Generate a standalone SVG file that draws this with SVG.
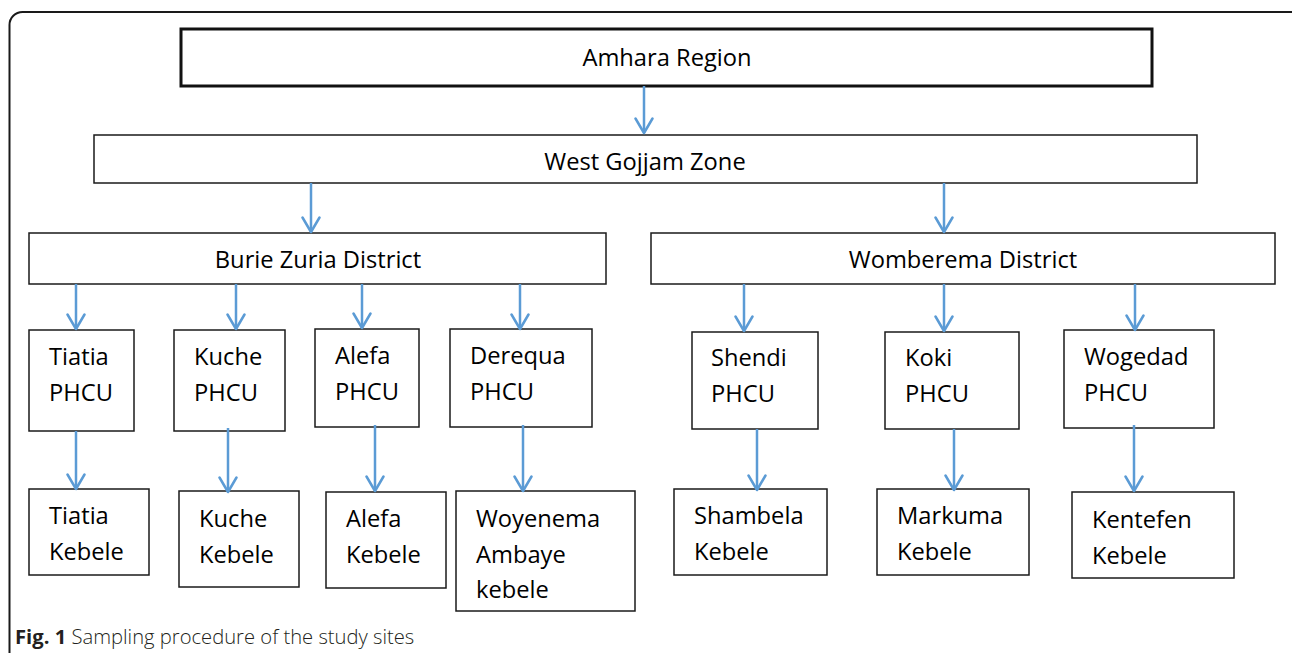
<svg xmlns="http://www.w3.org/2000/svg" width="1292" height="653" viewBox="0 0 1292 653">
<defs>
<style>
.frame{fill:none;stroke:#1a1a1a;stroke-width:2}
.box{fill:#fff;stroke:#1a1a1a;stroke-width:1.5}
.boxb{fill:#fff;stroke:#111;stroke-width:3}
.t{font-family:"Open Sans","Liberation Sans",sans-serif;font-size:23.7px;fill:#000}
.c{text-anchor:middle}
.cap{font-family:"Open Sans","Liberation Sans",sans-serif;font-size:20.2px;fill:#231f20;font-weight:300}
.capb{font-weight:700}
.arr{stroke:#5B9BD5;stroke-width:2.5;fill:none;marker-end:url(#ah)}
</style>
<marker id="ah" viewBox="0 0 18 20" refX="16" refY="10" markerWidth="18" markerHeight="20" markerUnits="userSpaceOnUse" orient="auto">
<path d="M1.5,1.5 L16,10 L1.5,18.5" fill="none" stroke="#5B9BD5" stroke-width="2.5" stroke-linecap="round" stroke-linejoin="round"/>
</marker>
</defs>
<rect width="1292" height="653" fill="#fff"/>
<rect class="frame" x="9.5" y="12" width="1300" height="700" rx="13"/>

<g id="amhara"><rect class="boxb" x="181" y="29" width="971" height="57"/><text class="t c" x="667" y="66">Amhara Region</text></g>
<g id="westgojjam"><rect class="box" x="94" y="135" width="1103" height="48"/><text class="t c" x="645" y="170">West Gojjam Zone</text></g>
<g id="burie"><rect class="box" x="29" y="233" width="577" height="51"/><text class="t c" x="318" y="268">Burie Zuria District</text></g>
<g id="womberema"><rect class="box" x="651" y="233" width="624" height="51"/><text class="t c" x="963" y="268">Womberema District</text></g>

<g id="tiatia-phcu"><rect class="box" x="29" y="330" width="105" height="101"/><text class="t" x="49" y="365">Tiatia</text><text class="t" x="49" y="401">PHCU</text></g>
<g id="kuche-phcu"><rect class="box" x="174" y="330" width="111" height="101"/><text class="t" x="194" y="365">Kuche</text><text class="t" x="194" y="401">PHCU</text></g>
<g id="alefa-phcu"><rect class="box" x="315" y="329" width="104" height="98"/><text class="t" x="335" y="364">Alefa</text><text class="t" x="335" y="400">PHCU</text></g>
<g id="derequa-phcu"><rect class="box" x="450" y="329" width="142" height="98"/><text class="t" x="470" y="364">Derequa</text><text class="t" x="470" y="400">PHCU</text></g>
<g id="shendi-phcu"><rect class="box" x="692" y="332" width="126" height="97"/><text class="t" x="711" y="366">Shendi</text><text class="t" x="711" y="402">PHCU</text></g>
<g id="koki-phcu"><rect class="box" x="885" y="332" width="134" height="97"/><text class="t" x="905" y="366">Koki</text><text class="t" x="905" y="402">PHCU</text></g>
<g id="wogedad-phcu"><rect class="box" x="1064" y="330" width="150" height="98"/><text class="t" x="1084" y="365">Wogedad</text><text class="t" x="1084" y="401">PHCU</text></g>

<g id="tiatia-kebele"><rect class="box" x="29" y="489" width="120" height="86"/><text class="t" x="49" y="524">Tiatia</text><text class="t" x="49" y="560">Kebele</text></g>
<g id="kuche-kebele"><rect class="box" x="179" y="491" width="120" height="96"/><text class="t" x="199" y="527">Kuche</text><text class="t" x="199" y="563">Kebele</text></g>
<g id="alefa-kebele"><rect class="box" x="326" y="492" width="120" height="96"/><text class="t" x="346" y="527">Alefa</text><text class="t" x="346" y="563">Kebele</text></g>
<g id="woyenema-kebele"><rect class="box" x="456" y="491" width="179" height="120"/><text class="t" x="476" y="527">Woyenema</text><text class="t" x="476" y="563">Ambaye</text><text class="t" x="476" y="598">kebele</text></g>
<g id="shambela-kebele"><rect class="box" x="674" y="489" width="153" height="86"/><text class="t" x="694" y="524">Shambela</text><text class="t" x="694" y="560">Kebele</text></g>
<g id="markuma-kebele"><rect class="box" x="877" y="489" width="152" height="86"/><text class="t" x="897" y="524">Markuma</text><text class="t" x="897" y="560">Kebele</text></g>
<g id="kentefen-kebele"><rect class="box" x="1072" y="492" width="162" height="86"/><text class="t" x="1092" y="528">Kentefen</text><text class="t" x="1092" y="564">Kebele</text></g>

<g id="connectors">
<line class="arr" x1="644" y1="86" x2="644" y2="133"/>
<line class="arr" x1="311" y1="183" x2="311" y2="232"/>
<line class="arr" x1="944" y1="183" x2="944" y2="232"/>
<line class="arr" x1="76" y1="284" x2="76" y2="329"/>
<line class="arr" x1="236" y1="284" x2="236" y2="329"/>
<line class="arr" x1="362" y1="284" x2="362" y2="328"/>
<line class="arr" x1="520" y1="284" x2="520" y2="329"/>
<line class="arr" x1="744" y1="284" x2="744" y2="331"/>
<line class="arr" x1="944" y1="284" x2="944" y2="331"/>
<line class="arr" x1="1135" y1="284" x2="1135" y2="330"/>
<line class="arr" x1="76" y1="431" x2="76" y2="489"/>
<line class="arr" x1="228" y1="428" x2="228" y2="492"/>
<line class="arr" x1="375" y1="425" x2="375" y2="491"/>
<line class="arr" x1="523" y1="425" x2="523" y2="491"/>
<line class="arr" x1="757" y1="429" x2="757" y2="490"/>
<line class="arr" x1="954" y1="429" x2="954" y2="490"/>
<line class="arr" x1="1134" y1="425" x2="1134" y2="491"/>
</g>

<text class="cap" x="15" y="644"><tspan class="capb">Fig. 1</tspan> Sampling procedure of the study sites</text>
</svg>
